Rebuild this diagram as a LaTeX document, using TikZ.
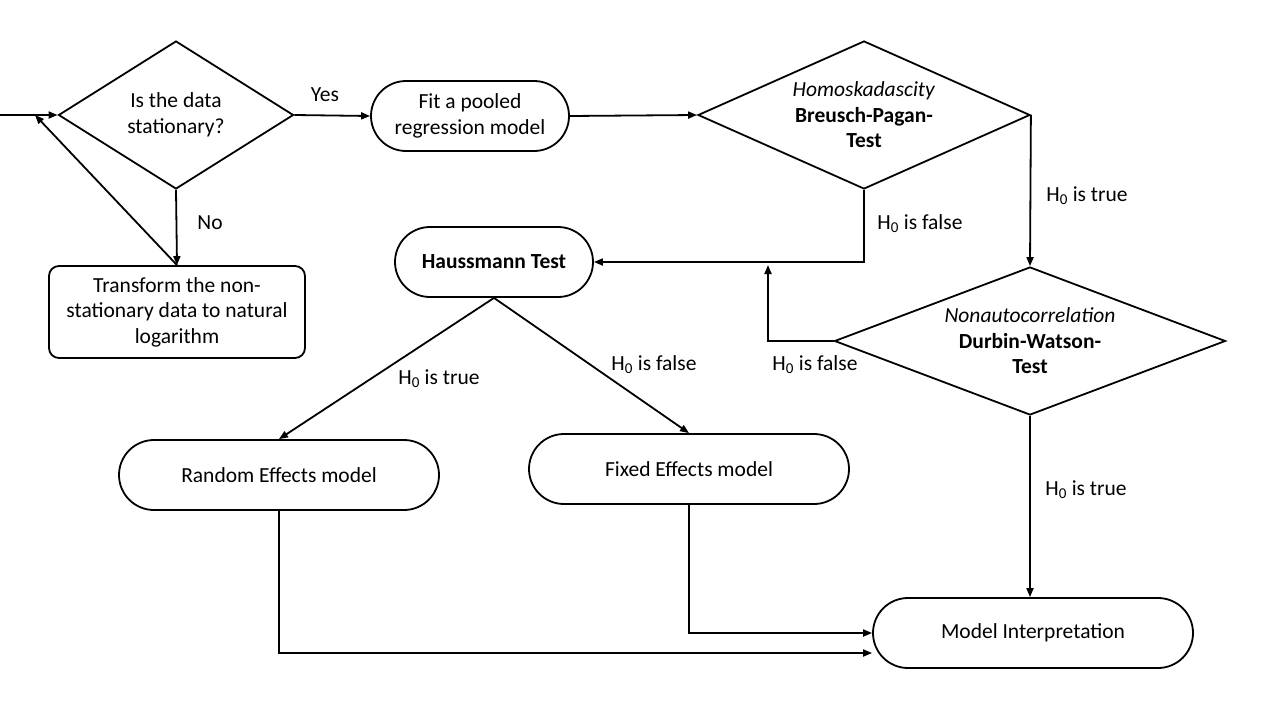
\documentclass[tikz,border=0pt]{standalone}
\usepackage{fontspec}
\setmainfont{Carlito}
\usetikzlibrary{shapes.geometric,arrows.meta,calc}
\begin{document}
\begin{tikzpicture}[x=1pt,y=-1pt,
  every node/.style={font=\fontsize{21.5}{25.5}\selectfont, align=center},
  ln/.style={line width=1.8pt},
  arr/.style={ln,-{Triangle[length=9pt,width=7pt]}},
  stadium/.style={draw,ln,rounded corners=35pt,minimum height=70pt,inner sep=0pt},
  rbox/.style={draw,ln,rounded corners=10pt,inner sep=0pt},
  dia/.style={draw,ln,diamond,inner sep=0pt},
  lbl/.style={inner sep=1pt}]
\useasboundingbox (0,0) rectangle (1280,720);
\fill[white] (0,0) rectangle (1280,720);
% nodes
\node[dia,aspect=1.59,minimum width=235pt,minimum height=148pt] (d1) at (176,115) {Is the data\\stationary?};
\node[rbox,minimum width=256pt,minimum height=92pt] (tr) at (177,312) {Transform the non-\\stationary data to natural\\logarithm};
\node[stadium,minimum width=198pt] (pool) at (470,116) {Fit a pooled\\regression model};
\node[dia,aspect=2.24,minimum width=332pt,minimum height=148pt] (d2) at (864,115) {\textit{Homoskadascity}\\\textbf{Breusch-Pagan-}\\\textbf{Test}};
\node[stadium,minimum width=198pt] (haus) at (494,262) {\textbf{Haussmann Test}};
\node[dia,aspect=2.64,minimum width=391pt,minimum height=148pt] (d3) at (1030,341) {\textit{Nonautocorrelation}\\\textbf{Durbin-Watson-}\\\textbf{Test}};
\node[stadium,minimum width=320pt] (re) at (279,475) {Random Effects model};
\node[stadium,minimum width=320pt] (fe) at (689,469) {Fixed Effects model};
\node[stadium,minimum width=320pt] (mi) at (1033,633) {Model Interpretation};
\coordinate (e0) at (0,115);
\coordinate (bk) at (35,115);
\coordinate (up) at (768,265);
% labels
\node[lbl] (lyes) at (325,95) {Yes};
\node[lbl] (lno) at (210,223) {No};
\node[lbl] (l1) at (920,224) {H\textsubscript{0} is false};
\node[lbl] (l2) at (1087,196) {H\textsubscript{0} is true};
\node[lbl] (l3) at (815,365) {H\textsubscript{0} is false};
\node[lbl] (l4) at (1086,490) {H\textsubscript{0} is true};
\node[lbl] (l5) at (439,379) {H\textsubscript{0} is true};
\node[lbl] (l6) at (654,365) {H\textsubscript{0} is false};
% connectors
\draw[arr] (e0) -- (d1.west);
\draw[arr] (d1.south) -- (tr.north);
\draw[arr] (tr.north) -- (bk);
\draw[arr] (d1.east) -- (pool.west);
\draw[arr] (pool.east) -- (d2.west);
\draw[arr] (d2.south) |- (haus.east);
\draw[arr] (d2.east) -- (d3.north);
\draw[arr] (d3.west) -| (up);
\draw[arr] (d3.south) -- (d3.south |- mi.north);
\draw[arr] (haus.south) -- (re.north);
\draw[arr] (haus.south) -- (fe.north);
\draw[arr] (re.south) |- ([yshift=-20pt]mi.west);
\draw[arr] (fe.south) |- (mi.west);
\end{tikzpicture}
\end{document}
